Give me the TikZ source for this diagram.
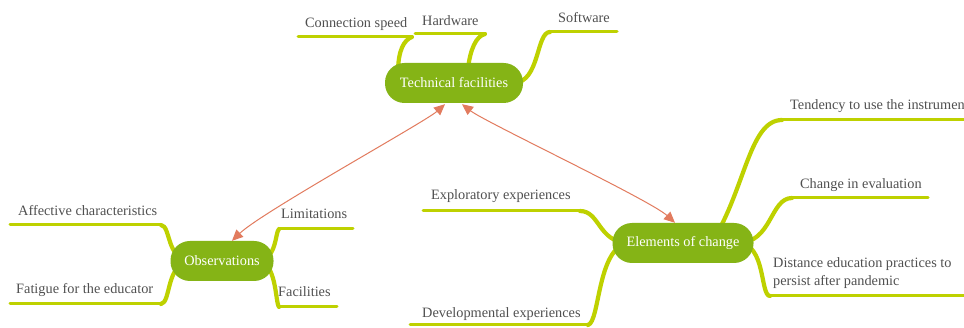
\documentclass[tikz,border=0pt]{standalone}
\usepackage{fontspec}
\setmainfont{Liberation Serif}
\usetikzlibrary{arrows.meta}
\definecolor{hub}{HTML}{85B416}
\definecolor{branch}{HTML}{BED100}
\definecolor{link}{HTML}{E27B5E}
\definecolor{txt}{HTML}{505050}
\pgfdeclarelayer{bg}
\pgfdeclarelayer{paper}
\pgfsetlayers{paper,bg,main}
\begin{document}
\begin{tikzpicture}[x=1pt,y=-1pt,
  hubnode/.style={fill=hub, text=white, rounded corners=19.5pt, minimum height=40pt,
    inner sep=0pt, font=\fontsize{14.3}{17}\selectfont},
  leaf/.style={text=txt, inner sep=0pt, anchor=base west, font=\fontsize{14.3}{18}\selectfont},
  branchline/.style={draw=branch, line width=3pt, line cap=round, line join=round},
  branchcurve/.style={draw=branch, line width=4.2pt, line cap=round, line join=round},
  linkarrow/.style={draw=link, line width=1pt,
    {Triangle[length=11pt,width=10pt]}-{Triangle[length=11pt,width=10pt]}}]
\clip (0,0) rectangle (964,328);
\begin{pgfonlayer}{paper}
\fill[white] (0,0) rectangle (964,328);
\end{pgfonlayer}

% central topics
\node[hubnode, minimum width=138pt] (tf) at (454,83) {Technical facilities};
\node[hubnode, minimum width=103pt] (obs) at (222,261) {Observations};
\node[hubnode, minimum width=141pt] (eoc) at (683,243) {Elements of change};

% leaf texts
\node[leaf] (cs) at (305,28) {Connection speed};
\node[leaf] (hw) at (422,26) {Hardware};
\node[leaf] (sw) at (558,23) {Software};
\node[leaf] (ac) at (18,216) {Affective characteristics};
\node[leaf] (fe) at (16,294) {Fatigue for the educator};
\node[leaf] (lim) at (281,219) {Limitations};
\node[leaf] (fac) at (278,297) {Facilities};
\node[leaf] (exp) at (431,200) {Exploratory experiences};
\node[leaf] (dev) at (422,318) {Developmental experiences};
\node[leaf] (ten) at (790,110) {Tendency to use the instrument};
\node[leaf] (cie) at (800,189) {Change in evaluation};
\node[leaf, anchor=north west, align=left] (dist) at (773,257.5)
  {Distance education practices to\\persist after pandemic};

% underline ends
\coordinate (cs0) at (298,37);  \coordinate (cs1) at (412,37);
\coordinate (hw0) at (415,34);  \coordinate (hw1) at (485,34);
\coordinate (sw0) at (550,32);  \coordinate (sw1) at (617,32);
\coordinate (ac0) at (10,225);  \coordinate (ac1) at (161,225);
\coordinate (fe0) at (10,304);  \coordinate (fe1) at (161,304);
\coordinate (lim0) at (279,229); \coordinate (lim1) at (353,229);
\coordinate (fac0) at (279,307); \coordinate (fac1) at (337,307);
\coordinate (exp0) at (423,211); \coordinate (exp1) at (580,211);
\coordinate (dev0) at (410,325); \coordinate (dev1) at (588,325);
\coordinate (ten0) at (782,120); \coordinate (ten1) at (970,120);
\coordinate (cie0) at (792,198); \coordinate (cie1) at (928,198);
\coordinate (dist0) at (770,296); \coordinate (dist1) at (970,296);

\begin{pgfonlayer}{bg}
% underlines
\foreach \b in {cs,hw,sw,ac,fe,lim,fac,exp,dev,ten,cie,dist}
  \draw[branchline] (\b0) -- (\b1);
% Technical facilities branches
\draw[branchcurve] ([xshift=-56pt,yshift=10pt]tf.center) .. controls (398,50) and (404,40) .. (cs1);
\draw[branchcurve] ([xshift=14pt,yshift=14pt]tf.center) .. controls (470,50) and (476,36) .. (hw1);
\draw[branchcurve] ([xshift=60pt]tf.center) .. controls (540,82) and (536,32) .. (sw0);
% Observations branches
\draw[branchcurve] (ac1) .. controls (171,226) and (166,259) .. ([xshift=-32pt]obs.center);
\draw[branchcurve] (fe1) .. controls (171,303) and (166,263) .. ([xshift=-32pt]obs.center);
\draw[branchcurve] ([xshift=35pt]obs.center) .. controls (277,261) and (275,232) .. (lim0);
\draw[branchcurve] ([xshift=35pt]obs.center) .. controls (277,261) and (275,302) .. (fac0);
% Elements of change branches
\draw[branchcurve] (exp1) .. controls (600,211) and (598,242) .. ([xshift=-55pt]eoc.center);
\draw[branchcurve] (dev1) .. controls (600,322) and (597,248) .. ([xshift=-55pt]eoc.center);
\draw[branchcurve] ([xshift=25pt,yshift=-5pt]eoc.center) .. controls (745,195) and (748,120) .. (ten0);
\draw[branchcurve] ([xshift=55pt]eoc.center) .. controls (772,243) and (770,198) .. (cie0);
\draw[branchcurve] ([xshift=55pt]eoc.center) .. controls (766,243) and (760,296) .. (dist0);
\end{pgfonlayer}

% relation arrows
\draw[linkarrow] ([xshift=-9pt,yshift=-1pt]tf.south) .. controls (425,122) and (262,212) .. ([xshift=10pt]obs.north);
\draw[linkarrow] ([xshift=8pt,yshift=-1pt]tf.south) .. controls (485,122) and (650,200) .. ([xshift=-8pt]eoc.north);
\end{tikzpicture}
\end{document}
